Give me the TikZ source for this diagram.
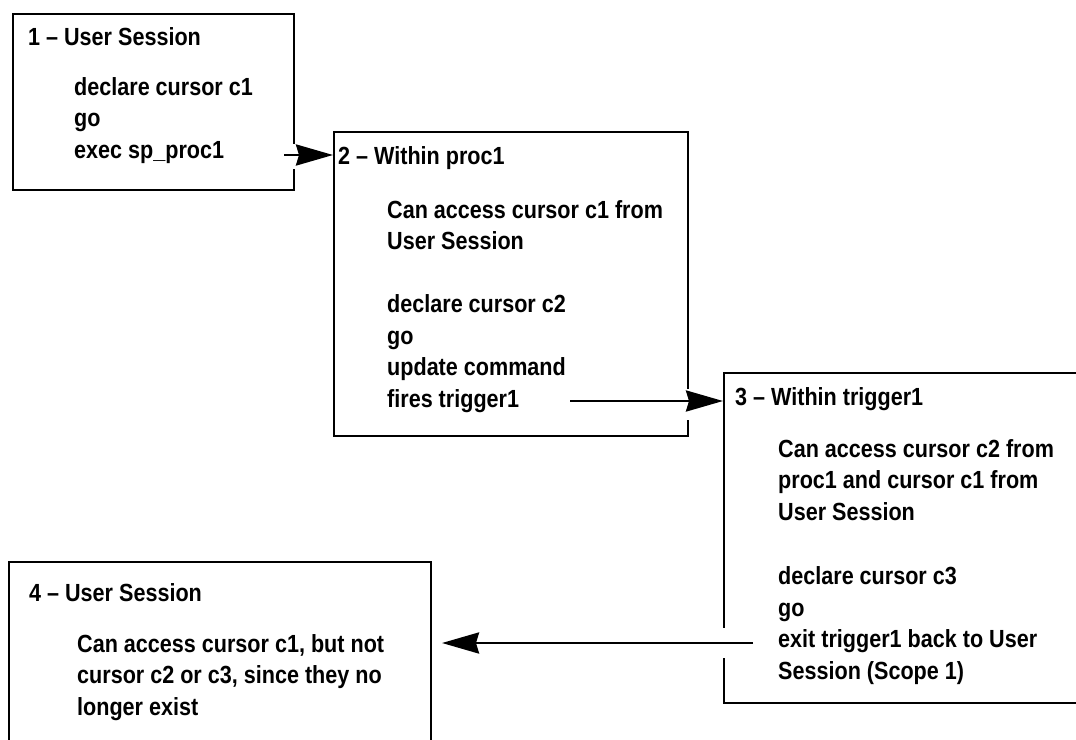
\documentclass[tikz,border=0pt]{standalone}
\usepackage{fontspec}
\setmainfont{Liberation Sans}[FakeStretch=0.87]
\usetikzlibrary{arrows.meta,calc}
\tikzset{
  boxnode/.style={draw=black, line width=2.2pt, rectangle, inner sep=0pt, anchor=north west},
  txt/.style={inner sep=0pt, anchor=base west, font=\bfseries\fontsize{24.8}{31.5}\selectfont},
  flow/.style={line width=2.8pt, -{Stealth[length=37pt,width=21pt,inset=3pt]}},
  gap/.style={fill=white, draw=none}
}
\begin{document}
\begin{tikzpicture}[x=1pt,y=1pt]
\useasboundingbox (0,0) rectangle (1076,-739);
\clip (0,0) rectangle (1076,-739);
% boxes
\node[boxnode, minimum width=281pt, minimum height=176pt] (box1) at (12,-13) {};
\node[boxnode, minimum width=354pt, minimum height=304pt] (box2) at (333,-131) {};
\node[boxnode, minimum width=380pt, minimum height=330pt] (box3) at (723,-372) {};
\node[boxnode, minimum width=422pt, minimum height=200pt] (box4) at (8,-561) {};
% box 1 text
\node[txt] (t1) at (28,-45) {1 – User Session};
\node[txt] (b1a) at (74,-95) {declare cursor c1};
\node[txt] (b1b) at (74,-126.5) {go};
\node[txt] (b1c) at (74,-158) {exec sp\_proc1};
% box 2 text
\node[txt] (t2) at (338,-164) {2 – Within proc1};
\node[txt] (b2a) at (387,-218) {Can access cursor c1 from};
\node[txt] (b2b) at (387,-249.5) {User Session};
\node[txt] (b2c) at (387,-312.5) {declare cursor c2};
\node[txt] (b2d) at (387,-344) {go};
\node[txt] (b2e) at (387,-375.5) {update command};
\node[txt] (b2f) at (387,-407) {fires trigger1};
% box 3 text
\node[txt] (t3) at (735,-405) {3 – Within trigger1};
\node[txt] (b3a) at (778,-457) {Can access cursor c2 from};
\node[txt] (b3b) at (778,-488.8) {proc1 and cursor c1 from};
\node[txt] (b3c) at (778,-520.6) {User Session};
\node[txt] (b3d) at (778,-584.2) {declare cursor c3};
\node[txt] (b3e) at (778,-616) {go};
\node[txt] (b3f) at (778,-647.8) {exit trigger1 back to User};
\node[txt] (b3g) at (778,-679.6) {Session (Scope 1)};
% box 4 text
\node[txt] (t4) at (29,-601) {4 – User Session};
\node[txt] (b4a) at (77,-652) {Can access cursor c1, but not};
\node[txt] (b4b) at (77,-683.5) {cursor c2 or c3, since they no};
\node[txt] (b4c) at (77,-715) {longer exist};
% arrow start points
\coordinate (s1) at (284,-155);
\coordinate (s2) at (570,-401);
\coordinate (s3) at (753,-643);
\coordinate (e3) at (442,-643);
% gaps in borders
\fill[gap] ($(box1.east |- s1)+(-4,11)$) rectangle ($(box1.east |- s1)+(4,-14)$);
\fill[gap] ($(box2.east |- s2)+(-4,12)$) rectangle ($(box2.east |- s2)+(4,-19)$);
\fill[gap] ($(box3.west |- s3)+(-4,15)$) rectangle ($(box3.west |- s3)+(4,-15)$);
% arrows
\draw[flow] (s1) -- (s1 -| box2.west);
\draw[flow] (s2) -- (s2 -| box3.west);
\draw[flow] (s3) -- (e3);
\end{tikzpicture}
\end{document}
